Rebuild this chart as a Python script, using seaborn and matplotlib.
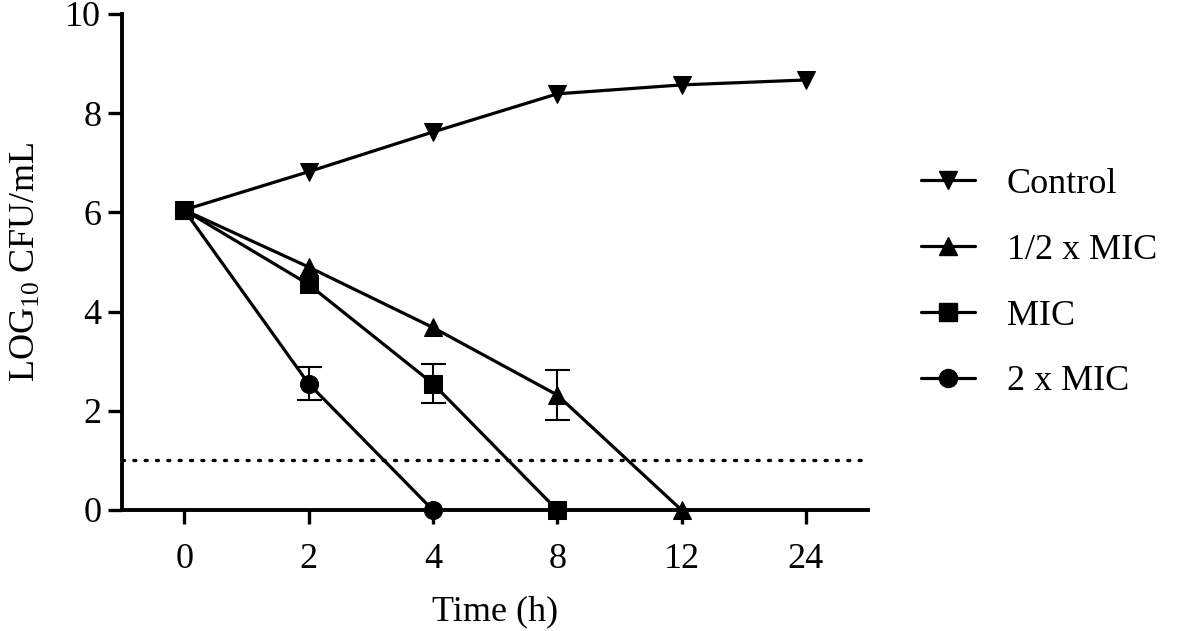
import numpy as np
import pandas as pd
import matplotlib
matplotlib.use("Agg")
import matplotlib.pyplot as plt
import seaborn as sns
from matplotlib.lines import Line2D

sns.set_style("ticks")
plt.rcParams['font.family'] = ['Liberation Serif', 'DejaVu Serif']
plt.rcParams['mathtext.fontset'] = 'custom'
plt.rcParams['mathtext.rm'] = 'Liberation Serif'
plt.rcParams['mathtext.it'] = 'Liberation Serif:italic'
plt.rcParams['text.color'] = 'black'
plt.rcParams['axes.labelcolor'] = 'black'
plt.rcParams['xtick.color'] = 'black'
plt.rcParams['ytick.color'] = 'black'

time_labels = ["0", "2", "4", "8", "12", "24"]
series_names = ["Control", "1/2 x MIC", "MIC", "2 x MIC"]
control = [6.05, 6.82, 7.62, 8.39, 8.57, 8.67]
half_mic = [6.05, 4.90, 3.68, 2.32, 0.0]
mic = [6.05, 4.55, 2.55, 0.0]
two_mic = [6.05, 2.55, 0.0]
half_mic_sd = [0.0, 0.0, 0.0, 0.51, 0.0]
mic_sd = [0.0, 0.0, 0.39, 0.0]
two_mic_sd = [0.0, 0.34, 0.0]
detection_limit = 1.0

values = [control, half_mic, mic, two_mic]
sds = [[0.0] * len(control), half_mic_sd, mic_sd, two_mic_sd]
markers = ["v", "^", "s", "o"]

rows = []
for name, vals, sd in zip(series_names, values, sds):
    for i, (v, s) in enumerate(zip(vals, sd)):
        rows.append({"pos": i, "time": time_labels[i], "value": v, "sd": s, "series": name})
df = pd.DataFrame(rows)

fig = plt.figure(figsize=(11.81, 6.31), dpi=100)
ax = fig.add_axes([122 / 1181, 1 - 510 / 631, (868 - 122) / 1181, (510 - 14) / 631])

ax.plot([-0.5, 5.5], [detection_limit, detection_limit], color="black", lw=2.4,
        linestyle=(0, (0.6, 2.8)), dash_capstyle="round", zorder=1)

for name, m in zip(series_names, markers):
    sub = df[df["series"] == name]
    err = sub[sub["sd"] > 0]
    if len(err):
        ax.errorbar(err["pos"], err["value"], yerr=err["sd"], fmt="none", ecolor="black",
                    elinewidth=1.5, capsize=9, capthick=1.5, zorder=2)

sns.lineplot(data=df, x="pos", y="value", hue="series", style="series",
             hue_order=series_names, style_order=series_names,
             palette=["black"] * 4, markers=markers, dashes=False,
             markersize=13, linewidth=2.3, markeredgecolor="black",
             ax=ax, legend=False, zorder=3)
for line in ax.lines:
    line.set_clip_on(False)

ax.set_xlim(-0.5, 5.5)
ax.set_ylim(0, 10)
ax.set_xticks(range(len(time_labels)))
ax.set_xticklabels(time_labels)
ax.set_yticks([0, 2, 4, 6, 8, 10])
ax.tick_params(axis="both", labelsize=26, width=2.4, length=10, direction="out",
               color="black", labelcolor="black")
ax.tick_params(axis="x", pad=14)
ax.tick_params(axis="y", pad=5)
ax.set_xlabel("Time (h)", fontsize=26, labelpad=14)
ax.set_ylabel(r"LOG$_{10}$ CFU/mL", fontsize=26, labelpad=16)
for sp in ["top", "right"]:
    ax.spines[sp].set_visible(False)
for sp in ["left", "bottom"]:
    ax.spines[sp].set_linewidth(2.8)
    ax.spines[sp].set_color("black")

handles = [Line2D([], [], color="black", lw=2.3, marker=m, markersize=13) for m in markers]
fig.legend(handles, series_names, loc="center left", bbox_to_anchor=(889 / 1181, 1 - 283 / 631),
           frameon=False, fontsize=26, handlelength=1.47, handletextpad=0.89, labelspacing=0.9)

fig.savefig("out.png", dpi=100)
